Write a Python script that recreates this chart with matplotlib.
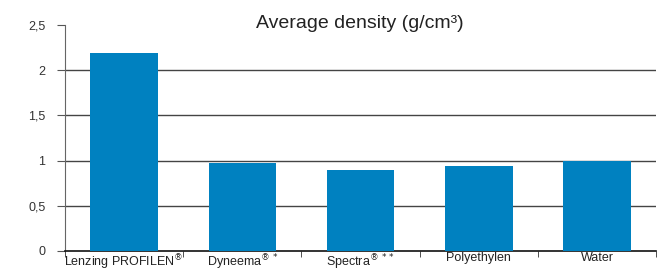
import numpy as np
import matplotlib.pyplot as plt

plt.rcParams['font.family'] = ['Liberation Sans', 'DejaVu Sans']

materials = ["Lenzing PROFILEN$^{®}$", "Dyneema$^{®\\,*}$", "Spectra$^{®\\,**}$",
             "Polyethylen", "Water"]
density = [2.19, 0.97, 0.90, 0.94, 1.00]
yticks = [0, 0.5, 1, 1.5, 2, 2.5]
ylabels = ["0", "0,5", "1", "1,5", "2", "2,5"]

fig = plt.figure(figsize=(6.68, 2.73), dpi=100)
ax = fig.add_axes([0.0973, 0.0806, 0.885, 0.828])

x = np.arange(len(materials))
ax.bar(x, density, width=0.57, color="#0081c0", zorder=3)

for v in [0.5, 1, 1.5, 2]:
    ax.axhline(v, color="#444444", lw=1.0, zorder=1)

ax.set_xlim(-0.5, len(materials) - 0.5)
ax.set_ylim(0, 2.5)
ax.set_yticks(yticks, ylabels)
ax.set_xticks(x, materials)
ax.set_xticks(np.arange(-0.5, len(materials)), minor=True)
ax.tick_params(axis='x', which='major', length=0, labelsize=9, pad=1, colors='#222222')
ax.tick_params(axis='x', which='minor', length=4, direction='out', color='#333333')
ax.tick_params(axis='y', length=6, direction='out', color='#555555', labelsize=9,
               pad=8, labelcolor='#333333')

for s in ['top', 'right']:
    ax.spines[s].set_visible(False)
ax.spines['left'].set_color('#666666')
ax.spines['bottom'].set_color('#111111')
ax.spines['bottom'].set_linewidth(1.2)

fig.text(0.539, 0.915, "Average density (g/cm³)", ha='center', va='center',
         fontsize=14, color='#222222')

fig.savefig("out.png", dpi=100)
